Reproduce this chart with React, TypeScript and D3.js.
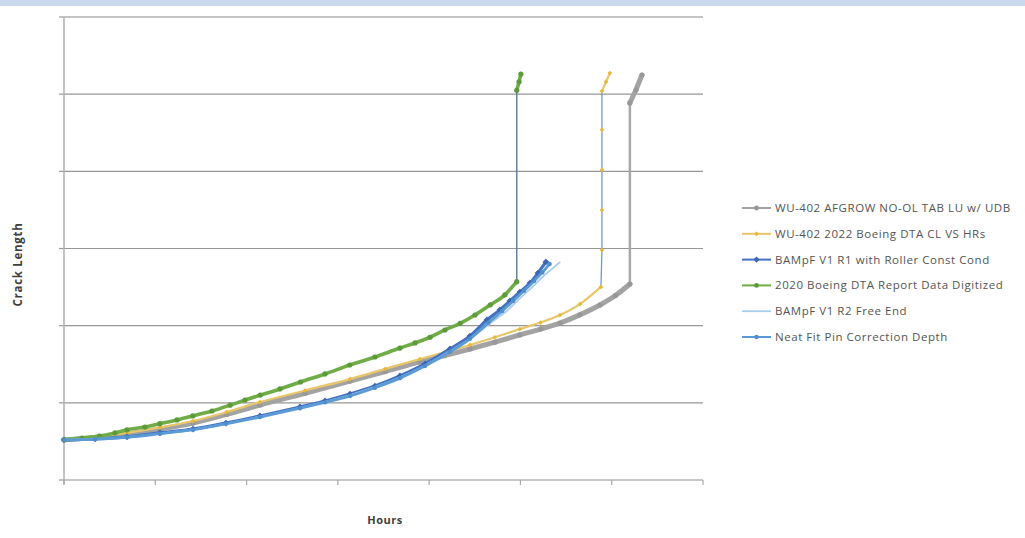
import React from "react";
import * as d3 from "d3";

// axis ticks (the reference shows no tick labels)
const hoursTicks = [0, 1000, 2000, 3000, 4000, 5000, 6000, 7000];
const crackTicks = [0, 0.5, 1, 1.5, 2, 2.5, 3];

// [hours, crack length]
const afgrowNoOl = [
  [0, 0.26], [340, 0.275], [690, 0.298], [1050, 0.33], [1413, 0.369], [1780, 0.425],
  [2147, 0.486], [2640, 0.562], [3133, 0.641], [3520, 0.703], [3899, 0.765],
  [4170, 0.806], [4447, 0.849], [4720, 0.893], [4994, 0.94], [5220, 0.978],
  [5433, 1.017], [5650, 1.07], [5871, 1.134], [6040, 1.195], [6199, 1.27],
  [6199, 2.443], [6265, 2.527], [6331, 2.624],
];
const boeingCl2022 = [
  [0, 0.26], [340, 0.278], [690, 0.305], [1050, 0.34], [1413, 0.382], [1780, 0.44],
  [2147, 0.505], [2640, 0.58], [3133, 0.654], [3520, 0.72], [3899, 0.784],
  [4170, 0.828], [4447, 0.875], [4720, 0.925], [4994, 0.978], [5220, 1.02],
  [5433, 1.069], [5652, 1.14], [5882, 1.251], [5893, 1.49], [5893, 1.75],
  [5893, 2.01], [5893, 2.27], [5893, 2.52], [5937, 2.58], [5980, 2.637],
];
const bampfR1 = [
  [0, 0.26], [340, 0.266], [690, 0.279], [1051, 0.305], [1413, 0.33], [1774, 0.369],
  [2147, 0.415], [2585, 0.473], [2859, 0.512], [3133, 0.557], [3406, 0.609],
  [3680, 0.674], [3954, 0.752], [4228, 0.849], [4447, 0.933], [4633, 1.037],
  [4775, 1.102], [4885, 1.16], [4994, 1.218], [5104, 1.276], [5192, 1.341],
  [5279, 1.413],
];
const boeingDigitized2020 = [
  [0, 0.26], [197, 0.272], [390, 0.285], [559, 0.305], [690, 0.325], [887, 0.343],
  [1050, 0.365], [1238, 0.389], [1410, 0.415], [1621, 0.447], [1820, 0.485],
  [1983, 0.518], [2150, 0.55], [2366, 0.59], [2590, 0.635], [2859, 0.687],
  [3130, 0.745], [3406, 0.797], [3680, 0.855], [3845, 0.888], [4010, 0.925],
  [4173, 0.972], [4340, 1.015], [4502, 1.069], [4670, 1.135], [4830, 1.2],
  [4960, 1.285], [4960, 2.525], [4985, 2.58], [5005, 2.63],
];
const bampfR2 = [
  [0, 0.26], [690, 0.278], [1413, 0.328], [2147, 0.41], [2640, 0.475], [3133, 0.55],
  [3680, 0.665], [3954, 0.742], [4228, 0.835], [4470, 0.925], [4700, 1.03],
  [4860, 1.1], [5000, 1.18], [5130, 1.25], [5250, 1.32], [5350, 1.37], [5430, 1.41],
];
const neatFitPin = [
  [0, 0.26], [340, 0.265], [690, 0.277], [1051, 0.3], [1413, 0.326], [1774, 0.364],
  [2147, 0.408], [2585, 0.465], [2859, 0.503], [3133, 0.545], [3406, 0.598],
  [3680, 0.66], [3954, 0.738], [4228, 0.83], [4447, 0.915], [4650, 1.02],
  [4800, 1.095], [4920, 1.16], [5040, 1.226], [5150, 1.29], [5240, 1.345],
  [5320, 1.4],
];

const seriesNames = [
  "WU-402 AFGROW NO-OL TAB LU w/ UDB",
  "WU-402 2022 Boeing DTA CL VS HRs",
  "BAMpF V1 R1 with Roller Const Cond",
  "2020 Boeing DTA Report Data Digitized",
  "BAMpF V1 R2 Free End",
  "Neat Fit Pin Correction Depth",
];

const series = [
  { name: seriesNames[0], data: afgrowNoOl, color: "#a3a3a3", width: 5, marker: "circle", mColor: "#989898", mSize: 2.6, jump: [20, 21], jumpColor: "#a8a8a8", jumpWidth: 2.5 },
  { name: seriesNames[1], data: boeingCl2022, color: "#e9c66a", width: 2.2, marker: "diamond", mColor: "#e4b93c", mSize: 1.8, jump: [18, 23], jumpColor: "#6f9bd0", jumpWidth: 1.3 },
  { name: seriesNames[2], data: bampfR1, color: "#4472c4", width: 3.2, marker: "diamond", mColor: "#3d65b3", mSize: 2.6, jump: null, jumpColor: "", jumpWidth: 0 },
  { name: seriesNames[3], data: boeingDigitized2020, color: "#70ad47", width: 3.6, marker: "circle", mColor: "#5e9a3a", mSize: 2.6, jump: [26, 27], jumpColor: "#5d7898", jumpWidth: 1.4 },
  { name: seriesNames[4], data: bampfR2, color: "#a9cdec", width: 1.8, marker: "none", mColor: "#a9cdec", mSize: 0, jump: null, jumpColor: "", jumpWidth: 0 },
  { name: seriesNames[5], data: neatFitPin, color: "#5b9bd5", width: 2.8, marker: "circle", mColor: "#4f8fcc", mSize: 2.2, jump: null, jumpColor: "", jumpWidth: 0 },
];

const W = 1025;
const H = 538;
const plot = { left: 64, right: 703, top: 17, bottom: 480 };

const Marker = ({ kind, x, y, r, fill }: { kind: string; x: number; y: number; r: number; fill: string }) => {
  if (kind === "none") return null;
  if (kind === "diamond") {
    return <path d={`M${x},${y - r * 1.3}L${x + r * 1.3},${y}L${x},${y + r * 1.3}L${x - r * 1.3},${y}Z`} fill={fill} />;
  }
  return <circle cx={x} cy={y} r={r} fill={fill} />;
};

export default function App() {
  const x = d3.scaleLinear().domain([0, 7000]).range([plot.left, plot.right]);
  const y = d3.scaleLinear().domain([0, 3]).range([plot.bottom, plot.top]);
  const line = d3.line<number[]>().x(d => x(d[0])).y(d => y(d[1])).curve(d3.curveMonotoneX);
  const straight = d3.line<number[]>().x(d => x(d[0])).y(d => y(d[1]));

  const legendX = 742;
  const legendY = 208;
  const legendStep = 25.8;

  return (
    <svg width={W} height={H} style={{ position: "absolute", left: 0, top: 0, background: "#fff" }}
      fontFamily="'Open Sans', 'Liberation Sans', sans-serif">
      <rect x={0} y={0} width={W} height={6} fill="#c9d8ec" />

      {/* gridlines */}
      {crackTicks.slice(1).map((t, i) => (
        <line key={t} x1={plot.left} x2={plot.right} y1={y(t)} y2={y(t)}
          stroke={i === crackTicks.length - 2 ? "#c4c4c4" : "#979797"} strokeWidth={i === crackTicks.length - 2 ? 2 : 1.2} />
      ))}
      {crackTicks.map(t => (
        <line key={"yt" + t} x1={plot.left - 5} x2={plot.left} y1={y(t)} y2={y(t)} stroke="#9a9a9a" strokeWidth={1.2} />
      ))}
      <line x1={plot.left} x2={plot.left} y1={plot.top} y2={plot.bottom + 4} stroke="#b0b0b0" strokeWidth={1.5} />
      <line x1={plot.left} x2={plot.right} y1={plot.bottom} y2={plot.bottom} stroke="#b4b4b4" strokeWidth={1.5} />
      {hoursTicks.map(t => (
        <line key={"xt" + t} x1={x(t)} x2={x(t)} y1={plot.bottom} y2={plot.bottom + 5} stroke="#a8a8a8" strokeWidth={1.2} />
      ))}

      {/* series */}
      {series.map(s => {
        const pts = s.data;
        const parts: { d: number[][]; c: string; w: number; curved: boolean }[] = [];
        if (s.jump) {
          parts.push({ d: pts.slice(0, s.jump[0] + 1), c: s.color, w: s.width, curved: true });
          parts.push({ d: pts.slice(s.jump[0], s.jump[1] + 1), c: s.jumpColor, w: s.jumpWidth, curved: false });
          parts.push({ d: pts.slice(s.jump[1]), c: s.color, w: s.width, curved: false });
        } else {
          parts.push({ d: pts, c: s.color, w: s.width, curved: true });
        }
        return (
          <g key={s.name}>
            {parts.map((p, i) => (
              <path key={i} d={(p.curved ? line(p.d) : straight(p.d)) || ""} fill="none" stroke={p.c}
                strokeWidth={p.w} strokeLinejoin="round" strokeLinecap="round" />
            ))}
            {pts.map((d, i) => (
              <Marker key={i} kind={s.marker} x={x(d[0])} y={y(d[1])} r={s.mSize} fill={s.mColor} />
            ))}
          </g>
        );
      })}

      {/* axis titles */}
      <text transform={`translate(22,${(plot.top + plot.bottom) / 2 + 16}) rotate(-90)`} textAnchor="middle"
        fontSize={11.5} fontWeight="bold" letterSpacing={0.7} fill="#404040">Crack Length</text>
      <text x={385} y={524} textAnchor="middle" fontSize={11} fontWeight="bold" letterSpacing={0.5} fill="#404040">Hours</text>

      {/* legend */}
      {series.map((s, i) => {
        const ly = legendY + i * legendStep;
        return (
          <g key={"lg" + i}>
            <line x1={legendX} x2={legendX + 29} y1={ly} y2={ly} stroke={s.color} strokeWidth={Math.min(s.width, 2)} />
            <Marker kind={s.marker} x={legendX + 14.5} y={ly} r={Math.min(s.mSize, 2.4)} fill={s.mColor} />
            <text x={legendX + 33} y={ly + 4} fontSize={11.5} letterSpacing={0.55} fill="#555">{s.name}</text>
          </g>
        );
      })}
    </svg>
  );
}
